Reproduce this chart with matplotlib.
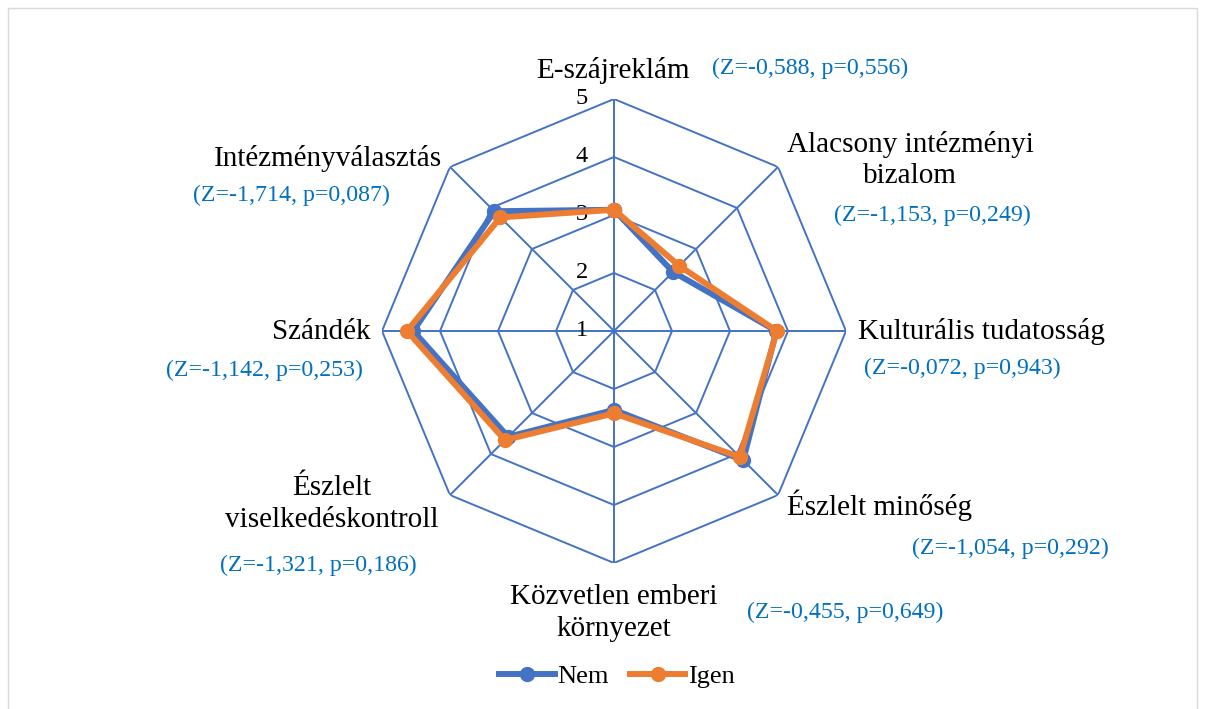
import matplotlib
matplotlib.use("Agg")
import matplotlib.pyplot as plt
import matplotlib.transforms as mtransforms
from matplotlib.patches import Rectangle
import numpy as np

plt.rcParams['font.family'] = ['Liberation Serif', 'DejaVu Serif']

W, H = 1205, 709

categories = ["E-szájreklám", "Alacsony intézményi\nbizalom", "Kulturális tudatosság",
              "Észlelt minőség", "Közvetlen emberi\nkörnyezet", "Észlelt\nviselkedéskontroll",
              "Szándék", "Intézményválasztás"]
z_labels = ["(Z=-0,588, p=0,556)", "(Z=-1,153, p=0,249)", "(Z=-0,072, p=0,943)",
            "(Z=-1,054, p=0,292)", "(Z=-0,455, p=0,649)", "(Z=-1,321, p=0,186)",
            "(Z=-1,142, p=0,253)", "(Z=-1,714, p=0,087)"]
nem = [3.09, 2.44, 3.80, 4.15, 2.36, 3.58, 4.46, 3.92]
igen = [3.09, 2.59, 3.81, 4.07, 2.42, 3.66, 4.57, 3.77]
ticks = [1, 2, 3, 4, 5]

BLUE = "#4472C4"
ORANGE = "#ED7D31"
ZCOL = "#0070C0"


def px(x, y):
    return x / W, 1 - y / H


fig = plt.figure(figsize=(W / 100, H / 100), dpi=100)
fig.patches.append(Rectangle(px(8, 712), (1197 - 8) / W, (712 - 8) / H,
                             transform=fig.transFigure, fill=False,
                             edgecolor="#D9D9D9", lw=1.0))

cx, cy, R = 614, 331, 232
ax = fig.add_axes([(cx - R) / W, (H - cy - R) / H, 2 * R / W, 2 * R / H],
                  projection="polar")
ax.set_theta_offset(np.pi / 2)
ax.set_theta_direction(-1)
ax.set_ylim(1, 5)
ax.grid(False)
ax.spines["polar"].set_visible(False)
ax.set_xticks([])
ax.set_yticks([])
ax.patch.set_alpha(0)

n = len(categories)
theta = np.arange(n) * 2 * np.pi / n
theta_c = np.append(theta, theta[0])

# octagon grid
for t in ticks[1:]:
    ax.plot(theta_c, [t] * (n + 1), color=BLUE, lw=1.4, zorder=1)
for th in theta:
    ax.plot([th, th], [1, 5], color=BLUE, lw=1.4, zorder=1)

lbl_tr = mtransforms.offset_copy(ax.transData, fig=fig, x=-26 / 100 * 72, y=0, units="points")
for t in ticks:
    ax.text(0, t, str(t), transform=lbl_tr, ha="right", va="center", fontsize=17.5)

ax.plot(theta_c, nem + nem[:1], color=BLUE, lw=4.3, marker="o", markersize=10,
        label="Nem", zorder=3, solid_joinstyle="round")
ax.plot(theta_c, igen + igen[:1], color=ORANGE, lw=4.3, marker="o", markersize=10,
        label="Igen", zorder=4, solid_joinstyle="round")

# category labels and test statistics
cat_pos = [(613, 70, "center"), (910, 160, "center"), (858, 332, "left"),
           (787, 505, "left"), (614, 613, "center"), (332, 504, "center"),
           (370, 332, "right"), (442, 158, "right")]
z_pos = [(810, 68), (932, 215), (962, 368), (1010, 548),
         (845, 612), (318, 565), (264, 370), (291, 195)]
for lab, (x, y, ha) in zip(categories, cat_pos):
    fig.text(*px(x, y), lab, ha=ha, va="center", fontsize=21,
             linespacing=1.28, multialignment="center")
for lab, (x, y) in zip(z_labels, z_pos):
    fig.text(*px(x, y), lab, ha="center", va="center", fontsize=17.2, color=ZCOL)

fig.legend(loc="center", bbox_to_anchor=px(617, 676), ncol=2, frameon=False,
           fontsize=19, handlelength=2.1, handletextpad=0.1, columnspacing=0.8)

fig.savefig("out.png", dpi=100)
